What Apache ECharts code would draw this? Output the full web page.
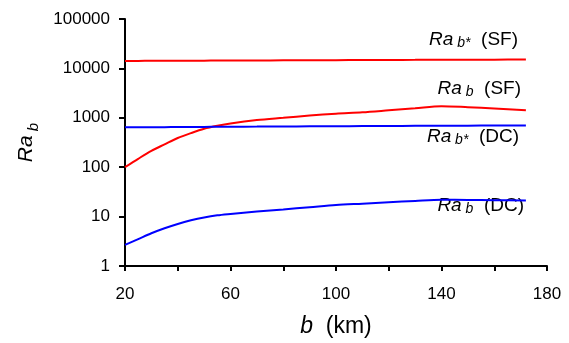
<!DOCTYPE html>
<html>
<head>
<meta charset="utf-8">
<script src="https://cdn.jsdelivr.net/npm/echarts@6/dist/echarts.min.js"></script>
<style>html,body{margin:0;padding:0;background:#fff}#c{width:569px;height:343px}</style>
</head>
<body>
<div id="c"></div>
<script>
// b (km)
const bValues = [20, 25, 30, 35, 40, 45, 50, 55, 60, 70, 80, 90, 100, 110, 120, 130, 140, 150, 160, 172];
// Ra_b* (SF)
const raStarSF = [14200, 14200, 14250, 14250, 14300, 14300, 14350, 14400, 14400, 14500, 14550, 14600, 14700, 14800, 14850, 14900, 15000, 15000, 15050, 15100];
// Ra_b (SF)
const raSF = [100, 148, 215, 290, 390, 490, 600, 690, 770, 900, 1000, 1110, 1210, 1290, 1415, 1555, 1717, 1640, 1550, 1425];
// Ra_b* (DC)
const raStarDC = [640, 642, 645, 647, 650, 652, 655, 657, 660, 663, 667, 671, 675, 679, 683, 687, 690, 693, 696, 700];
// Ra_b (DC)
const raDC = [2.67, 3.5, 4.6, 5.8, 7.1, 8.4, 9.6, 10.6, 11.3, 12.7, 14.0, 15.5, 17.2, 18.3, 19.5, 20.8, 22.0, 21.8, 21.5, 21.1];
const xTicks = [20, 60, 100, 140, 180];
const yTicks = [1, 10, 100, 1000, 10000, 100000];

const pair = arr => bValues.map((b, i) => [b, arr[i]]);
const font = '"Liberation Sans", Arial, sans-serif';

const chart = echarts.init(document.getElementById('c'), null, {renderer: 'canvas'});

const mkLabel = (star, tag) => ({
  type: 'text',
  style: {
    text: '{r|Ra}{s|' + (star ? ' b*' : ' b') + '}{n|  ' + tag + '}',
    font: '19px ' + font,
    fill: '#000',
    align: 'right',
    verticalAlign: 'top',
    rich: {
      r: {fontFamily: font, fontStyle: 'italic', fontSize: 19, lineHeight: 20, verticalAlign: 'top', fill: '#000'},
      s: {fontFamily: font, fontStyle: 'italic', fontSize: 14, lineHeight: 20, verticalAlign: 'bottom', fill: '#000'},
      n: {fontFamily: font, fontSize: 19, lineHeight: 20, verticalAlign: 'top', fill: '#000'}
    }
  }
});

const labels = [
  Object.assign(mkLabel(true, '(SF)'), {right: 51, top: 30}),
  Object.assign(mkLabel(false, '(SF)'), {right: 48, top: 79}),
  Object.assign(mkLabel(true, '(DC)'), {right: 50, top: 127}),
  Object.assign(mkLabel(false, '(DC)'), {right: 45, top: 196})
];

const lineSeries = (data, color) => ({
  type: 'line',
  data: pair(data),
  smooth: 0.3,
  showSymbol: false,
  symbol: 'none',
  lineStyle: {color: color, width: 2},
  itemStyle: {color: color},
  silent: true,
  animation: false
});

chart.setOption({
  animation: false,
  grid: {left: 125, right: 22, top: 19, bottom: 76, containLabel: false},
  xAxis: {
    type: 'value',
    min: 20, max: 180, interval: 20,
    name: '{i|b}{n|  (km)}',
    nameLocation: 'middle',
    nameGap: 49,
    nameTextStyle: {
      rich: {
        i: {fontFamily: font, fontStyle: 'italic', fontSize: 23, color: '#000'},
        n: {fontFamily: font, fontSize: 23, color: '#000'}
      }
    },
    axisLine: {show: true, onZero: false, lineStyle: {color: '#000', width: 2}},
    axisTick: {show: true, length: 5, lineStyle: {color: '#000', width: 2}},
    splitLine: {show: false},
    axisLabel: {
      fontFamily: font, fontSize: 17, color: '#000', margin: 20,
      formatter: v => xTicks.includes(v) ? String(v) : ''
    }
  },
  yAxis: {
    type: 'log',
    logBase: 10,
    min: 1, max: 100000,
    name: '{r|Ra}{s| b}',
    nameLocation: 'middle',
    nameRotate: 90,
    nameGap: 84,
    nameTextStyle: {
      rich: {
        r: {fontFamily: font, fontStyle: 'italic', fontSize: 21, lineHeight: 24, verticalAlign: 'top', color: '#000'},
        s: {fontFamily: font, fontStyle: 'italic', fontSize: 15, lineHeight: 25, verticalAlign: 'bottom', color: '#000'}
      }
    },
    axisLine: {show: true, onZero: false, lineStyle: {color: '#000', width: 2}},
    axisTick: {show: true, length: 6, lineStyle: {color: '#000', width: 2}},
    minorTick: {show: false},
    splitLine: {show: false},
    axisLabel: {
      fontFamily: font, fontSize: 17, color: '#000', margin: 15,
      formatter: v => yTicks.includes(Math.round(v)) ? String(Math.round(v)) : ''
    }
  },
  series: [
    lineSeries(raStarSF, '#ff0000'),
    lineSeries(raSF, '#ff0000'),
    lineSeries(raStarDC, '#0000ff'),
    lineSeries(raDC, '#0000ff')
  ],
  graphic: labels
});
</script>
</body>
</html>
